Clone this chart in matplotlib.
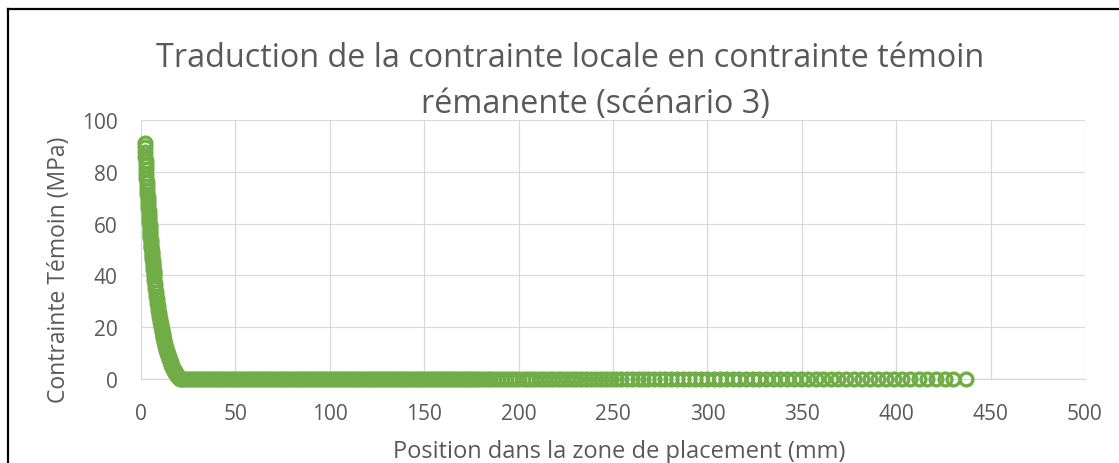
import matplotlib
matplotlib.use("Agg")
import matplotlib.pyplot as plt
from matplotlib.lines import Line2D

# Contrainte témoin le long de la zone de placement (scénario 3)
decay_x = [1.900, 2.025, 2.150, 2.275, 2.400, 2.525, 2.650, 2.775, 2.900, 3.025,
           3.150, 3.275, 3.400, 3.525, 3.650, 3.775, 3.900, 4.025, 4.150, 4.275,
           4.400, 4.525, 4.650, 4.775, 4.900, 5.025, 5.150, 5.275, 5.400, 5.525,
           5.650, 5.775, 5.900, 6.025, 6.150, 6.275, 6.400, 6.525, 6.650, 6.775,
           6.90, 7.15, 7.40, 7.65, 7.90, 8.15, 8.40, 8.65, 8.90, 9.15,
           9.40, 9.65, 9.90, 10.15, 10.40, 10.65, 10.90, 11.15, 11.40, 11.65,
           11.90, 12.15, 12.40, 12.65, 12.90, 13.15, 13.40, 13.65, 13.90, 14.15,
           14.40, 14.65, 14.90, 15.15, 15.40, 15.65, 15.90, 16.15, 16.40, 16.65,
           16.90, 17.15, 17.40, 17.65, 17.90, 18.15, 18.40, 18.65, 18.90, 19.15,
           19.40, 19.65, 19.90, 20.15, 20.40]
decay_y = [91.2, 89.4, 87.7, 85.9, 84.2, 82.5, 80.9, 79.3, 77.7, 76.1,
           74.6, 73.1, 71.6, 70.2, 68.8, 67.4, 66.0, 64.7, 63.4, 62.1,
           60.8, 59.6, 58.4, 57.2, 56.0, 54.9, 53.7, 52.6, 51.5, 50.5,
           49.4, 48.4, 47.4, 46.4, 45.4, 44.5, 43.5, 42.6, 41.7, 40.8,
           39.9, 38.3, 36.6, 35.1, 33.5, 32.1, 30.7, 29.3, 28.0, 26.8,
           25.6, 24.4, 23.3, 22.2, 21.2, 20.2, 19.2, 18.3, 17.4, 16.5,
           15.7, 14.9, 14.2, 13.4, 12.7, 12.0, 11.3, 10.7, 10.1, 9.5,
           8.9, 8.4, 7.9, 7.4, 6.9, 6.4, 5.9, 5.5, 5.1, 4.7,
           4.3, 3.9, 3.5, 3.2, 2.9, 2.5, 2.2, 1.9, 1.6, 1.3,
           1.1, 0.8, 0.6, 0.3, 0.1]

# Positions où la contrainte rémanente est nulle
tail_x = [21.5, 23.0, 24.5, 26.0, 27.5, 29.0, 30.5, 32.0, 33.5, 35.0,
          36.5, 38.0, 39.5, 41.0, 42.5, 44.0, 45.5, 47.0, 48.5, 50.0,
          51.5, 53.0, 54.5, 56.0, 57.5, 59.0, 60.5, 62.0, 63.5, 65.0,
          66.5, 68.0, 69.5, 71.0, 72.5, 74.0, 75.5, 77.0, 78.5, 80.0,
          81.5, 83.0, 84.5, 86.0, 87.5, 89.0, 90.5, 92.0, 93.5, 95.0,
          96.5, 98.0, 99.5, 101.0, 102.5, 104.0, 105.5, 107.0, 108.5, 110.0,
          111.5, 113.0, 114.5, 116.0, 117.5, 119.0, 120.5, 122.0, 123.5, 125.0,
          126.5, 128.0, 129.5, 131.0, 132.5, 134.0, 135.5, 137.0, 138.5, 140.0,
          141.5, 143.0, 144.5, 146.0, 147.5, 149.0, 150.5, 152.0, 153.5, 155.0,
          156.5, 158.0, 159.5, 161.0, 162.5, 164.0, 165.5, 167.0, 168.5, 170.0,
          171.5, 173.0, 174.5, 176.0, 177.5, 179.0,
          181.0, 183.0, 185.0, 187.1, 189.2, 191.3, 193.4, 195.5, 197.7, 199.9,
          202.1, 204.3, 206.6, 208.9, 211.2, 213.5, 215.9, 218.3, 220.7, 223.1,
          225.6, 228.1, 230.6, 233.1, 235.7, 238.3, 240.9, 243.6, 246.3, 249.0,
          251.7, 254.5, 257.3, 260.1, 263.0, 265.9, 268.8, 271.8, 274.8, 277.8,
          280.9, 284.0, 287.1, 290.3, 293.5, 296.7, 300.0, 303.3, 306.6, 310.0,
          313.4, 316.9, 320.4, 323.9, 327.5, 331.1, 334.7, 338.4, 342.1, 345.9,
          349.7, 353.5, 357.4, 361.3, 365.3, 369.3, 373.4, 377.5, 381.7, 385.9,
          390.1, 394.4, 398.7, 403.1, 407.5, 412.0, 416.5, 421.0, 425.6, 430.2,
          437.0]
tail_y = [0.0] * len(tail_x)

x_ticks = [0, 50, 100, 150, 200, 250, 300, 350, 400, 450, 500]
y_ticks = [0, 20, 40, 60, 80, 100]

title_lines = ["Traduction de la contrainte locale en contrainte témoin",
               "rémanente (scénario 3)"]
x_label = "Position dans la zone de placement (mm)"
y_label = "Contrainte Témoin (MPa)"

GREEN = "#70AD47"
TEXT = "#595959"
GRID = "#D9D9D9"
FONT = "Open Sans"

plt.rcParams["font.family"] = [FONT, "DejaVu Sans"]

W, H = 1119, 464
fig = plt.figure(figsize=(W / 100, H / 100), dpi=100)
ax = fig.add_axes([141 / W, 1 - 380 / H, (1085 - 141) / W, (380 - 121) / H])

xs = decay_x + tail_x
ys = decay_y + tail_y
ax.plot(xs, ys, linestyle="none", marker="o", markersize=9.2,
        markerfacecolor="none", markeredgecolor=GREEN, markeredgewidth=2.4,
        clip_on=False, zorder=3)

ax.set_xlim(0, 500)
ax.set_ylim(0, 100)
ax.set_xticks(x_ticks)
ax.set_yticks(y_ticks)
ax.grid(True, color=GRID, linewidth=0.9)
ax.set_axisbelow(True)
for side in ("top", "right", "left"):
    ax.spines[side].set_visible(False)
ax.spines["bottom"].set_color(GRID)
ax.spines["bottom"].set_linewidth(0.9)
ax.tick_params(axis="both", length=0, colors=TEXT, labelsize=15)
ax.tick_params(axis="x", pad=17)
ax.tick_params(axis="y", pad=17)

fig.text(570 / W, 1 - 67 / H, title_lines[0], ha="center", va="baseline",
         color=TEXT, fontsize=23.3)
fig.text(595 / W, 1 - 113 / H, title_lines[1], ha="center", va="baseline",
         color=TEXT, fontsize=23.3)
fig.text(619 / W, 1 - 458 / H, x_label, ha="center", va="baseline",
         color=TEXT, fontsize=17)
fig.text(65 / W, 1 - 403 / H, y_label, ha="left", va="baseline",
         rotation=90, rotation_mode="anchor", color=TEXT, fontsize=16.5)

# Cadre du graphique (bords gauche et supérieur)
fig.add_artist(Line2D([7.5 / W, 7.5 / W], [0, 1 - 10 / H], color="black",
                      linewidth=1.6, transform=fig.transFigure))
fig.add_artist(Line2D([7.5 / W, 1], [1 - 10 / H, 1 - 10 / H], color="black",
                      linewidth=1.6, transform=fig.transFigure))

fig.savefig("out.png", dpi=100)
